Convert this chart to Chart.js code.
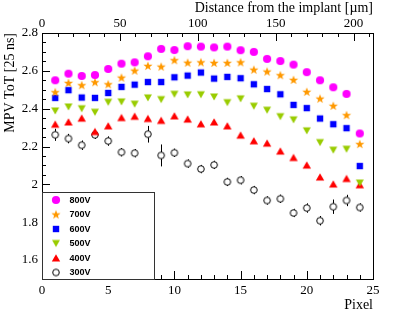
<!DOCTYPE html>
<html>
<head>
<meta charset="utf-8">
<script src="https://cdn.jsdelivr.net/npm/chart.js@4/dist/chart.umd.min.js"></script>
<style>
    html, body { margin: 0; padding: 0; background: #fff; }
    #wrap { width: 415px; height: 311px; position: relative; }
</style>
</head>
<body>
<div id="wrap"><canvas id="mpvChart"></canvas></div>
<script>
// Datos (MPV ToT por pixel, para cada tensión)
const pixels = [1, 2, 3, 4, 5, 6, 7, 8, 9, 10, 11, 12, 13, 14, 15, 16, 17, 18, 19, 20, 21, 22, 23, 24];
const mpv800 = [2.550, 2.585, 2.573, 2.578, 2.610, 2.638, 2.645, 2.677, 2.716, 2.710, 2.730, 2.728, 2.724, 2.728, 2.709, 2.700, 2.663, 2.652, 2.633, 2.593, 2.550, 2.513, 2.478, 2.269];
const mpv700 = [2.487, 2.536, 2.524, 2.540, 2.529, 2.564, 2.601, 2.626, 2.622, 2.656, 2.643, 2.645, 2.642, 2.642, 2.645, 2.606, 2.596, 2.577, 2.552, 2.489, 2.453, 2.415, 2.366, 2.213];
const mpv600 = [2.457, 2.498, 2.459, 2.457, 2.483, 2.515, 2.527, 2.541, 2.541, 2.566, 2.575, 2.591, 2.559, 2.568, 2.561, 2.529, 2.504, 2.476, 2.420, 2.403, 2.348, 2.318, 2.297, 2.097];
const mpv500 = [2.388, 2.409, 2.400, 2.381, 2.434, 2.436, 2.424, 2.457, 2.448, 2.476, 2.473, 2.474, 2.462, 2.432, 2.452, 2.413, 2.392, 2.358, 2.341, 2.283, 2.221, 2.181, 2.186, 2.007];
const mpv400 = [2.318, 2.330, 2.350, 2.279, 2.309, 2.353, 2.360, 2.348, 2.338, 2.362, 2.345, 2.320, 2.330, 2.309, 2.260, 2.230, 2.218, 2.176, 2.142, 2.102, 2.039, 2.002, 2.031, 1.998];
const mpv300 = [2.262, 2.242, 2.207, 2.262, 2.229, 2.170, 2.165, 2.265, 2.153, 2.167, 2.110, 2.081, 2.103, 2.013, 2.022, 1.970, 1.915, 1.924, 1.849, 1.875, 1.808, 1.882, 1.915, 1.878];
const err300 = [0.032, 0.025, 0.025, 0.022, 0.025, 0.022, 0.022, 0.044, 0.058, 0.022, 0.022, 0.022, 0.022, 0.022, 0.022, 0.022, 0.022, 0.022, 0.022, 0.025, 0.025, 0.038, 0.030, 0.022];

const pixelTicks = [0, 5, 10, 15, 20, 25];
const distanceTicks = [0, 50, 100, 150, 200];
const mpvTicks = [1.6, 1.8, 2, 2.2, 2.4, 2.6, 2.8];
const pixelRange = [0, 25];
const distanceRange = [0, 212.5];
const mpvRange = [1.5, 2.8];

const SERIF = "'Liberation Serif', 'DejaVu Serif', serif";
const SANS = "'Liberation Sans', Arial, sans-serif";

// Marcadores tipo ROOT dibujados en pequeños canvas (Chart.js los usa como pointStyle)
function makeMarker(draw) {
    const c = document.createElement('canvas');
    c.width = 12; c.height = 12;
    const g = c.getContext('2d');
    draw(g);
    return c;
}
const markers = {
    circle: makeMarker(g => { g.fillStyle = '#ff00ff'; g.beginPath(); g.arc(6, 6, 4.1, 0, Math.PI * 2); g.fill(); }),
    star: makeMarker(g => {
        g.fillStyle = '#ff9900'; g.beginPath();
        for (let i = 0; i < 10; i++) {
            const r = i % 2 === 0 ? 4.8 : 2.0;
            const a = -Math.PI / 2 + i * Math.PI / 5;
            g.lineTo(6 + r * Math.cos(a), 6.3 + r * Math.sin(a));
        }
        g.closePath(); g.fill();
    }),
    square: makeMarker(g => { g.fillStyle = '#0000ff'; g.fillRect(2.8, 2.8, 6.4, 6.4); }),
    triDown: makeMarker(g => { g.fillStyle = '#99cc00'; g.beginPath(); g.moveTo(2, 2.5); g.lineTo(10, 2.5); g.lineTo(6, 9.5); g.closePath(); g.fill(); }),
    triUp: makeMarker(g => { g.fillStyle = '#ff0000'; g.beginPath(); g.moveTo(6, 2.3); g.lineTo(10.2, 9.5); g.lineTo(1.8, 9.5); g.closePath(); g.fill(); }),
    open: makeMarker(g => { g.strokeStyle = '#000'; g.lineWidth = 1; g.beginPath(); g.arc(6, 6, 3.3, 0, Math.PI * 2); g.stroke(); })
};
const OPEN_R = 3.3;

function toPoints(values) {
    return pixels.map((p, i) => ({ x: p, y: values[i] }));
}

const series = [
    { label: '800V', values: mpv800, marker: markers.circle },
    { label: '700V', values: mpv700, marker: markers.star },
    { label: '600V', values: mpv600, marker: markers.square },
    { label: '500V', values: mpv500, marker: markers.triDown },
    { label: '400V', values: mpv400, marker: markers.triUp },
    { label: '300V', values: mpv300, marker: markers.open }
];

// Ticks internos, marco, barras de error y leyenda
const rootStyle = {
    id: 'rootStyle',
    beforeDatasetsDraw(chart) {
        const { ctx, chartArea: a, scales } = chart;
        ctx.save();
        ctx.strokeStyle = '#000';
        ctx.lineWidth = 1;
        ctx.beginPath();
        for (let v = pixelRange[0]; v <= pixelRange[1]; v++) {
            const x = Math.round(scales.x.getPixelForValue(v)) + 0.5;
            const len = v % 5 === 0 ? 8 : 4;
            ctx.moveTo(x, a.bottom); ctx.lineTo(x, a.bottom - len);
        }
        for (let v = 0; v <= distanceRange[1]; v += 10) {
            const x = Math.round(scales.x2.getPixelForValue(v)) + 0.5;
            const len = v % 50 === 0 ? 8 : 4;
            ctx.moveTo(x, a.top); ctx.lineTo(x, a.top + len);
        }
        for (let k = 0; k <= 26; k++) {
            const v = mpvRange[0] + k * 0.05;
            const y = Math.round(scales.y.getPixelForValue(v)) + 0.5;
            const len = (k - 2) % 4 === 0 ? 8 : 4;
            ctx.moveTo(a.left, y); ctx.lineTo(a.left + len, y);
        }
        ctx.stroke();
        ctx.strokeRect(Math.round(a.left) + 0.5, Math.round(a.top) + 0.5,
            Math.round(a.right - a.left), Math.round(a.bottom - a.top));

        // barras de error de la serie 300V
        ctx.beginPath();
        pixels.forEach((p, i) => {
            const x = Math.round(scales.x.getPixelForValue(p)) + 0.5;
            const yc = scales.y.getPixelForValue(mpv300[i]);
            const yHi = scales.y.getPixelForValue(mpv300[i] + err300[i]);
            const yLo = scales.y.getPixelForValue(mpv300[i] - err300[i]);
            if (yc - OPEN_R > yHi) { ctx.moveTo(x, yHi); ctx.lineTo(x, yc - OPEN_R); }
            if (yc + OPEN_R < yLo) { ctx.moveTo(x, yc + OPEN_R); ctx.lineTo(x, yLo); }
        });
        ctx.stroke();
        ctx.restore();
    },
    afterDraw(chart) {
        const { ctx, chartArea: a } = chart;
        const box = { left: Math.round(a.left) + 0.5, top: 192.5, right: 154.5, bottom: Math.round(a.bottom) + 0.5 };
        ctx.save();
        ctx.fillStyle = '#fff';
        ctx.fillRect(box.left, box.top, box.right - box.left, box.bottom - box.top);
        ctx.strokeStyle = '#333';
        ctx.lineWidth = 1;
        ctx.strokeRect(box.left, box.top, box.right - box.left, box.bottom - box.top);
        ctx.font = 'bold 9px ' + SANS;
        ctx.fillStyle = '#000';
        ctx.textBaseline = 'middle';
        series.forEach((s, i) => {
            const y = 200 + i * 14.5;
            ctx.drawImage(s.marker, 56 - 6, y - 6);
            ctx.fillText(s.label, 69.5, y + 0.5);
        });
        ctx.restore();
    }
};

const tickFont = { family: SERIF, size: 13 };
const titleFont = { family: SERIF, size: 14 };

new Chart(document.getElementById('mpvChart'), {
    type: 'scatter',
    data: {
        datasets: series.map(s => ({
            label: s.label,
            data: toPoints(s.values),
            pointStyle: s.marker,
            pointRadius: 4,
            pointHoverRadius: 4,
            showLine: false
        }))
    },
    options: {
        responsive: true,
        maintainAspectRatio: false,
        animation: false,
        layout: { padding: { right: 42 } },
        plugins: { legend: { display: false }, tooltip: { enabled: false } },
        scales: {
            x: {
                type: 'linear', position: 'bottom',
                min: pixelRange[0], max: pixelRange[1],
                afterBuildTicks: ax => { ax.ticks = pixelTicks.map(v => ({ value: v })); },
                afterFit: ax => { ax.height = 32; },
                grid: { display: false, drawTicks: false },
                border: { display: false },
                ticks: { font: tickFont, color: '#000', padding: 4, maxRotation: 0, autoSkip: false },
                title: { display: true, text: 'Pixel', align: 'end', font: titleFont, color: '#000', padding: { top: 0, bottom: -3 } }
            },
            x2: {
                type: 'linear', position: 'top',
                min: distanceRange[0], max: distanceRange[1],
                afterBuildTicks: ax => { ax.ticks = distanceTicks.map(v => ({ value: v })); },
                afterFit: ax => { ax.height = 33; },
                grid: { display: false, drawTicks: false },
                border: { display: false },
                ticks: { font: tickFont, color: '#000', padding: 2, maxRotation: 0, autoSkip: false },
                title: { display: true, text: 'Distance from the implant [µm]', align: 'end', font: titleFont, color: '#000', padding: 0 }
            },
            y: {
                type: 'linear', position: 'left',
                min: mpvRange[0], max: mpvRange[1],
                afterBuildTicks: ax => { ax.ticks = mpvTicks.map(v => ({ value: v })); },
                afterFit: ax => { ax.width = 42; },
                grid: { display: false, drawTicks: false },
                border: { display: false },
                ticks: { font: tickFont, color: '#000', padding: 4, autoSkip: false,
                         callback: v => String(Math.round(v * 10) / 10) },
                title: { display: true, text: 'MPV ToT [25 ns]', align: 'end', font: titleFont, color: '#000', padding: { top: 2 } }
            }
        }
    },
    plugins: [rootStyle]
});
</script>
</body>
</html>
